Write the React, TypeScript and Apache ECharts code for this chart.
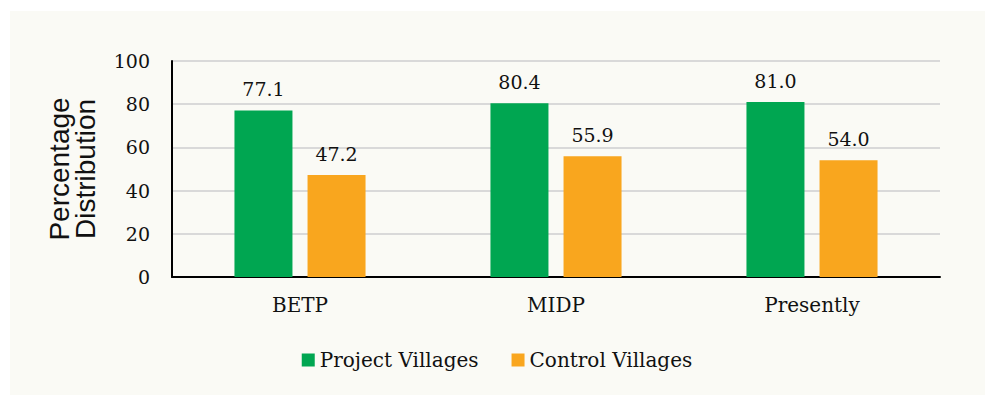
import React, { useEffect, useRef } from "react";
import * as echarts from "echarts";

const categories = ["BETP", "MIDP", "Presently"];
const projectVillages = [77.1, 80.4, 81.0];
const controlVillages = [47.2, 55.9, 54.0];
const seriesNames = ["Project Villages", "Control Villages"];
const yTicks = { min: 0, max: 100, interval: 20 };

const SERIF = "'DejaVu Serif', serif";

export default function App() {
  const ref = useRef<HTMLDivElement>(null);
  useEffect(() => {
    if (!ref.current) return;
    const chart = echarts.init(ref.current, undefined, { renderer: "svg" });
    const label = {
      show: true,
      position: "top",
      distance: 12,
      fontFamily: SERIF,
      fontSize: 19,
      color: "#111",
      formatter: (p: any) => p.value.toFixed(1),
    };
    chart.setOption({
      animation: false,
      backgroundColor: "#ffffff",
      graphic: [
        {
          type: "rect",
          z: -10,
          silent: true,
          shape: { x: 10, y: 11, width: 975, height: 384 },
          style: { fill: "#FAFAF5" },
        },
      ],
      grid: { left: 172, right: 54, top: 61, bottom: 128 },
      legend: {
        data: seriesNames,
        left: "center",
        top: 345,
        itemWidth: 13,
        itemHeight: 13,
        itemGap: 33,
        icon: "rect",
        textStyle: { fontFamily: SERIF, fontSize: 20, color: "#111" },
      },
      xAxis: {
        type: "category",
        data: categories,
        axisLine: { lineStyle: { color: "#000", width: 2 } },
        axisTick: { show: false },
        axisLabel: { fontFamily: SERIF, fontSize: 20, color: "#111", margin: 18 },
      },
      yAxis: {
        type: "value",
        min: yTicks.min,
        max: yTicks.max,
        interval: yTicks.interval,
        name: "Percentage\nDistribution",
        nameLocation: "middle",
        nameGap: 74,
        nameTextStyle: {
          fontFamily: "'Liberation Sans', Arial, sans-serif",
          fontSize: 28,
          color: "#111",
          lineHeight: 26,
        },
        axisLine: { show: true, lineStyle: { color: "#000", width: 2 } },
        axisTick: { show: false },
        axisLabel: { fontFamily: SERIF, fontSize: 19, color: "#111", margin: 22 },
        splitLine: { lineStyle: { color: "#D9D9D9", width: 2 } },
      },
      series: [
        {
          name: seriesNames[0],
          type: "bar",
          data: projectVillages,
          barWidth: 58,
          barGap: "26%",
          itemStyle: { color: "#00A651" },
          label,
        },
        {
          name: seriesNames[1],
          type: "bar",
          data: controlVillages,
          barWidth: 58,
          itemStyle: { color: "#F9A61E" },
          label,
        },
      ],
    });
    return () => chart.dispose();
  }, []);
  return (
    <div
      ref={ref}
      style={{ position: "absolute", left: 0, top: 0, width: 994, height: 405 }}
    />
  );
}
